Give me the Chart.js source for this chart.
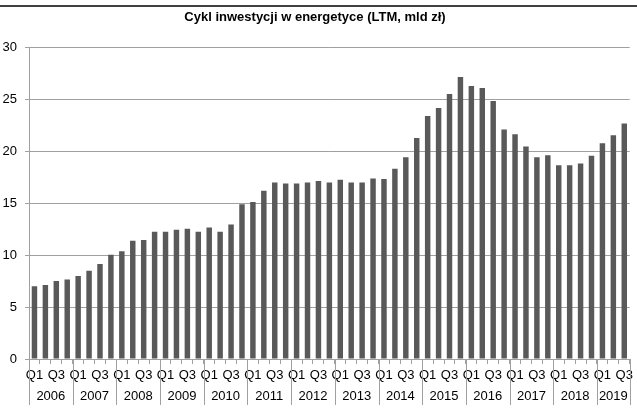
<!DOCTYPE html>
<html>
<head>
<meta charset="utf-8">
<script src="https://cdn.jsdelivr.net/npm/chart.js@4/dist/chart.umd.min.js"></script>
<style>
  html, body { margin: 0; padding: 0; background: #fff; }
  #wrap { width: 637px; height: 417px; position: relative; }
</style>
</head>
<body>
<div id="wrap"><canvas id="barChart"></canvas></div>
<script>
// Years shown on the lower axis row and how many quarters each has
const years = ["2006", "2007", "2008", "2009", "2010", "2011", "2012", "2013", "2014", "2015", "2016", "2017", "2018", "2019"];
const quartersPerYear = [4, 4, 4, 4, 4, 4, 4, 4, 4, 4, 4, 4, 4, 3];

// Quarter labels (one per bar)
const quarters = [];
years.forEach((y, i) => {
    for (let q = 1; q <= quartersPerYear[i]; q++) quarters.push("Q" + q);
});

// LTM investment, bn PLN
const values = [
    7.0, 7.13, 7.52, 7.65,
    8.0, 8.51, 9.15, 10.05,
    10.38, 11.4, 11.47, 12.27,
    12.27, 12.46, 12.56, 12.27,
    12.66, 12.27, 12.95, 14.9,
    15.13, 16.22, 17.0, 16.9,
    16.9, 17.0, 17.15, 17.0,
    17.28, 17.0, 17.0, 17.38,
    17.35, 18.34, 19.43, 21.3,
    23.4, 24.17, 25.52, 27.16,
    26.3, 26.1, 24.85, 22.1,
    21.66, 20.47, 19.44, 19.63,
    18.67, 18.67, 18.83, 19.57,
    20.79, 21.56, 22.69
];

const yTicks = [0, 5, 10, 15, 20, 25, 30];

const gridGray = '#a0a0a0';
const fontFamily = '"Liberation Sans", Arial, sans-serif';

// draws the black rule at the top and the year row under the quarters
const yearAxis = {
    id: 'yearAxis',
    beforeDraw(chart) {
        const ctx = chart.ctx;
        ctx.save();
        ctx.strokeStyle = '#000';
        ctx.lineWidth = 1.5;
        ctx.beginPath();
        ctx.moveTo(0, 6);
        ctx.lineTo(chart.width, 6);
        ctx.stroke();
        ctx.restore();
    },
    afterDraw(chart) {
        const ctx = chart.ctx;
        const x = chart.scales.x;
        const half = (x.getPixelForValue(1) - x.getPixelForValue(0)) / 2;
        const top = chart.chartArea.bottom;
        ctx.save();
        ctx.strokeStyle = gridGray;
        ctx.lineWidth = 1;
        ctx.fillStyle = '#000';
        ctx.font = '13px ' + fontFamily;
        ctx.textAlign = 'center';
        ctx.textBaseline = 'middle';
        let start = 0;
        years.forEach((y, i) => {
            const end = start + quartersPerYear[i] - 1;
            const left = x.getPixelForValue(start) - half;
            const right = x.getPixelForValue(end) + half;
            ctx.beginPath();
            ctx.moveTo(Math.round(left) + 0.5, top);
            ctx.lineTo(Math.round(left) + 0.5, top + 46);
            if (i === years.length - 1) {
                ctx.moveTo(Math.round(right) + 0.5, top);
                ctx.lineTo(Math.round(right) + 0.5, top + 46);
            }
            ctx.stroke();
            ctx.fillText(y, (left + right) / 2, top + 37);
            start = end + 1;
        });
        ctx.restore();
    }
};

document.addEventListener("DOMContentLoaded", function() {
    const ctxBar = document.getElementById('barChart').getContext('2d');
    new Chart(ctxBar, {
        type: 'bar',
        data: {
            labels: quarters,
            datasets: [{
                data: values,
                backgroundColor: '#595959',
                barPercentage: 0.5,
                categoryPercentage: 1.0
            }]
        },
        options: {
            responsive: true,
            maintainAspectRatio: false,
            animation: false,
            layout: { padding: { left: 0, right: 7, top: 0, bottom: 0 } },
            plugins: {
                legend: { display: false },
                tooltip: { enabled: false },
                title: {
                    display: true,
                    text: 'Cykl inwestycji w energetyce (LTM, mld zł)',
                    color: '#000',
                    font: { family: fontFamily, size: 13, weight: 'bold' },
                    padding: { top: 10, bottom: 22 }
                }
            },
            scales: {
                x: {
                    afterFit(scale) { scale.height = 58; },
                    grid: {
                        display: true,
                        offset: true,
                        drawOnChartArea: false,
                        tickLength: 5,
                        color: gridGray
                    },
                    border: { color: gridGray },
                    ticks: {
                        autoSkip: false,
                        maxRotation: 0,
                        padding: 4,
                        color: '#000',
                        font: { family: fontFamily, size: 13 },
                        callback: function(val, idx) {
                            return idx % 2 === 0 ? quarters[idx] : '';
                        }
                    }
                },
                y: {
                    min: 0,
                    max: 30,
                    afterFit(scale) { scale.width = 29; },
                    afterBuildTicks(scale) { scale.ticks = yTicks.map(v => ({ value: v })); },
                    grid: { color: gridGray, tickLength: 4 },
                    border: { color: gridGray },
                    ticks: {
                        padding: 8,
                        color: '#000',
                        font: { family: fontFamily, size: 13 }
                    }
                }
            }
        },
        plugins: [yearAxis]
    });
});
</script>
</body>
</html>
